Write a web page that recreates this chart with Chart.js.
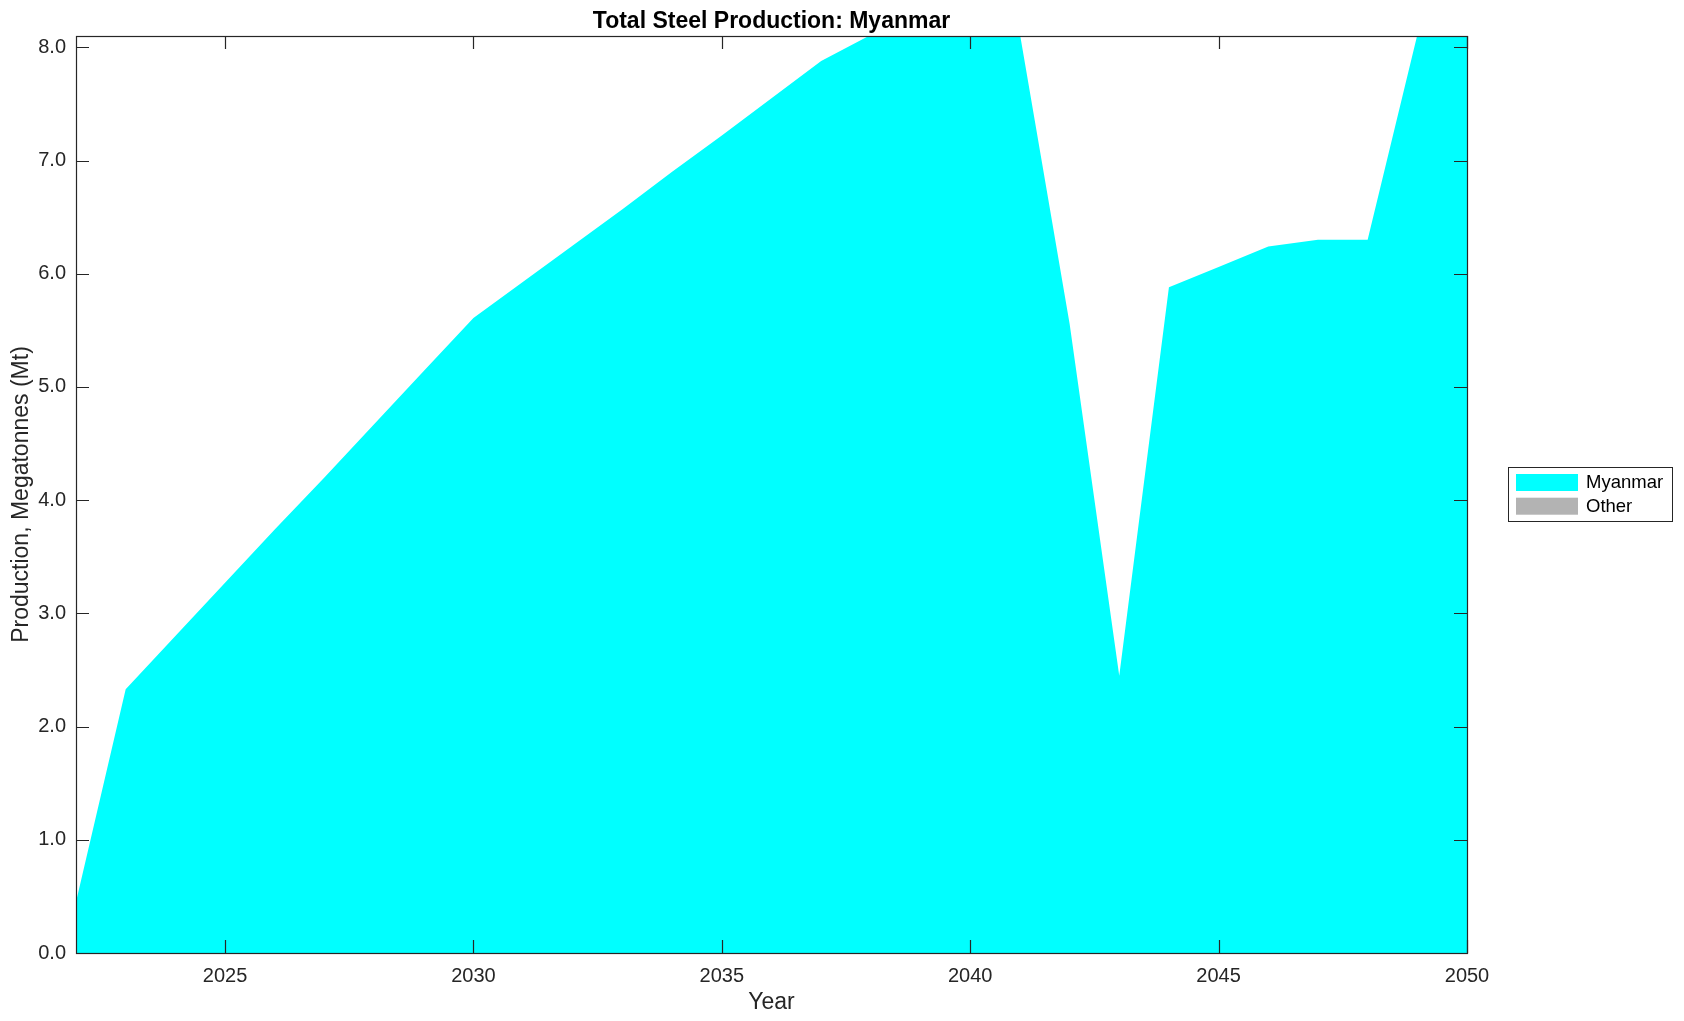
<!DOCTYPE html>
<html>
<head>
<meta charset="utf-8">
<title>Total Steel Production: Myanmar</title>
<script src="https://cdn.jsdelivr.net/npm/chart.js@4/dist/chart.umd.min.js"></script>
<style>
  html, body { margin: 0; padding: 0; background: #fff; }
  #wrap { position: relative; width: 1684px; height: 1021px; }
</style>
</head>
<body>
<div id="wrap"><canvas id="steel-chart" width="1684" height="1021"></canvas></div>
<script>
// data
const years = [2022, 2023, 2024, 2025, 2026, 2027, 2028, 2029, 2030, 2031,
  2032, 2033, 2034, 2035, 2036, 2037, 2038, 2039, 2040, 2041,
  2042, 2043, 2044, 2045, 2046, 2047, 2048, 2049, 2050];
const myanmar = [0.45, 2.33, 2.80, 3.27, 3.74, 4.20, 4.67, 5.14, 5.61, 5.93,
  6.25, 6.57, 6.90, 7.22, 7.55, 7.88, 8.11, 8.30, 8.40, 8.12,
  5.56, 2.45, 5.88, 6.06, 6.24, 6.30, 6.30, 8.11, 8.35];
const other = years.map(() => 0);
const xTicks = [2025, 2030, 2035, 2040, 2045, 2050];
const yTicks = [0, 1, 2, 3, 4, 5, 6, 7, 8];

const FONT = '"Liberation Sans", Arial, Helvetica, sans-serif';
const AXIS_COLOR = '#262626';

// box + inward tick marks, drawn over the filled areas like MATLAB does
const boxTicks = {
  id: 'boxTicks',
  afterDatasetsDraw(chart) {
    const { ctx, chartArea: a, scales: { x, y } } = chart;
    const len = 13;
    ctx.save();
    ctx.strokeStyle = AXIS_COLOR;
    ctx.lineWidth = 1.2;
    ctx.beginPath();
    xTicks.forEach(v => {
      const px = Math.round(x.getPixelForValue(v)) + 0.5;
      ctx.moveTo(px, a.bottom); ctx.lineTo(px, a.bottom - len);
      ctx.moveTo(px, a.top); ctx.lineTo(px, a.top + len);
    });
    yTicks.forEach(v => {
      const py = Math.round(y.getPixelForValue(v)) + 0.5;
      ctx.moveTo(a.left, py); ctx.lineTo(a.left + len, py);
      ctx.moveTo(a.right, py); ctx.lineTo(a.right - len, py);
    });
    ctx.stroke();
    ctx.strokeRect(Math.round(a.left) + 0.5, Math.round(a.top) + 0.5,
      Math.round(a.right - a.left), Math.round(a.bottom - a.top));
    ctx.restore();
  }
};

// boxed legend to the right of the axes
const boxLegend = {
  id: 'boxLegend',
  afterDraw(chart) {
    const ctx = chart.ctx;
    const bx = 1508.5, by = 467.5, bw = 164, bh = 54;
    ctx.save();
    ctx.fillStyle = '#fff';
    ctx.fillRect(bx, by, bw, bh);
    ctx.strokeStyle = AXIS_COLOR;
    ctx.lineWidth = 1;
    ctx.strokeRect(bx, by, bw, bh);
    ctx.font = '18.5px ' + FONT;
    ctx.textBaseline = 'middle';
    chart.data.datasets.forEach((ds, i) => {
      const top = 474 + i * 23.7;
      ctx.fillStyle = ds.backgroundColor;
      ctx.fillRect(1516, top, 62, 17);
      ctx.fillStyle = '#000';
      ctx.fillText(ds.label, 1586, top + 9);
    });
    ctx.restore();
  }
};

new Chart(document.getElementById('steel-chart'), {
  type: 'line',
  data: {
    datasets: [{
      label: 'Myanmar',
      data: years.map((yr, i) => ({ x: yr, y: myanmar[i] })),
      backgroundColor: '#00ffff',
      borderWidth: 0,
      pointRadius: 0,
      fill: 'origin'
    }, {
      label: 'Other',
      data: years.map((yr, i) => ({ x: yr, y: other[i] })),
      backgroundColor: '#b3b3b3',
      borderWidth: 0,
      pointRadius: 0,
      fill: '-1'
    }]
  },
  options: {
    responsive: false,
    animation: false,
    layout: { padding: { left: 0, top: 0, right: 217, bottom: 0 } },
    plugins: {
      legend: { display: false },
      tooltip: { enabled: false },
      title: {
        display: true,
        text: 'Total Steel Production: Myanmar',
        color: '#000',
        fullSize: false,
        font: { family: FONT, size: 23, weight: 'bold' },
        padding: { top: 7.5, bottom: 0.9 }
      }
    },
    scales: {
      x: {
        type: 'linear',
        min: 2022,
        max: 2050,
        grid: { display: false, drawTicks: false },
        border: { display: false },
        afterFit: s => { s.height = 68; },
        afterBuildTicks: s => { s.ticks = xTicks.map(v => ({ value: v })); },
        ticks: {
          includeBounds: false,
          padding: 11,
          color: AXIS_COLOR,
          font: { family: FONT, size: 20 },
          callback: v => String(v)
        },
        title: {
          display: true,
          text: 'Year',
          color: AXIS_COLOR,
          font: { family: FONT, size: 23 },
          padding: { top: 0, bottom: 5 }
        }
      },
      y: {
        stacked: true,
        min: 0,
        max: 8.1,
        grid: { display: false, drawTicks: false },
        border: { display: false },
        afterFit: s => { s.width = 76; },
        afterBuildTicks: s => { s.ticks = yTicks.map(v => ({ value: v })); },
        ticks: {
          includeBounds: false,
          padding: 10,
          color: AXIS_COLOR,
          font: { family: FONT, size: 20 },
          callback: v => v.toFixed(1)
        },
        title: {
          display: true,
          text: 'Production, Megatonnes (Mt)',
          color: AXIS_COLOR,
          font: { family: FONT, size: 23 },
          padding: { top: 8, bottom: 0 }
        }
      }
    }
  },
  plugins: [boxTicks, boxLegend]
});
</script>
</body>
</html>
